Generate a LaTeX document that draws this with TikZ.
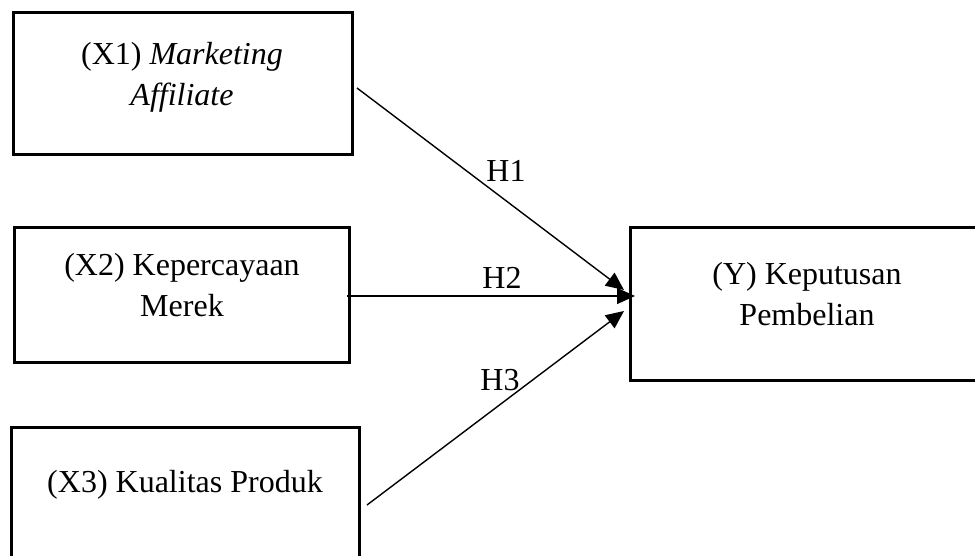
\documentclass[tikz,border=0pt]{standalone}
\usepackage{fontspec}
\setmainfont{Liberation Serif}
\usetikzlibrary{arrows.meta}
\begin{document}
\begin{tikzpicture}[x=1pt,y=-1pt,
  box/.style={draw, line width=3pt, inner sep=0pt},
  lbl/.style={align=center, inner sep=0pt, font=\fontsize{32}{41}\selectfont},
  arr/.style={line width=1.4pt, -{Triangle[length=18pt,width=16pt]}}]
\clip (0,0) rectangle (975,556);
% boxes
\node[box, minimum width=339pt, minimum height=142pt] (x1) at (182.5,84) {};
\node[box, minimum width=335pt, minimum height=134pt] (x2) at (181.5,295) {};
\node[box, minimum width=348pt, minimum height=142pt] (x3) at (185,498) {};
\node[box, minimum width=354pt, minimum height=152pt] (y) at (807,304) {};
% texts
\node[lbl] (x1t) at (182,77) {(X1) \textit{Marketing}\\\textit{Affiliate}};
\node[lbl] (x2t) at (182,285) {(X2) Kepercayaan\\Merek};
\node[lbl] (x3t) at (185,485) {(X3) Kualitas Produk};
\node[lbl] (yt) at (807,294) {(Y) Keputusan\\Pembelian};
% connector ends
\coordinate (s1) at (357,88);
\coordinate (s2) at (347,296);
\coordinate (s3) at (367,505);
\coordinate (e1) at (624,290);
\coordinate (e2) at (635,296);
\coordinate (e3) at (624,311);
\draw[arr] (s1) -- (e1);
\draw[arr] (s2) -- (e2);
\draw[arr] (s3) -- (e3);
\node[lbl] (h1) at (506,171) {H1};
\node[lbl] (h2) at (502,278) {H2};
\node[lbl] (h3) at (500,380) {H3};
\end{tikzpicture}
\end{document}
